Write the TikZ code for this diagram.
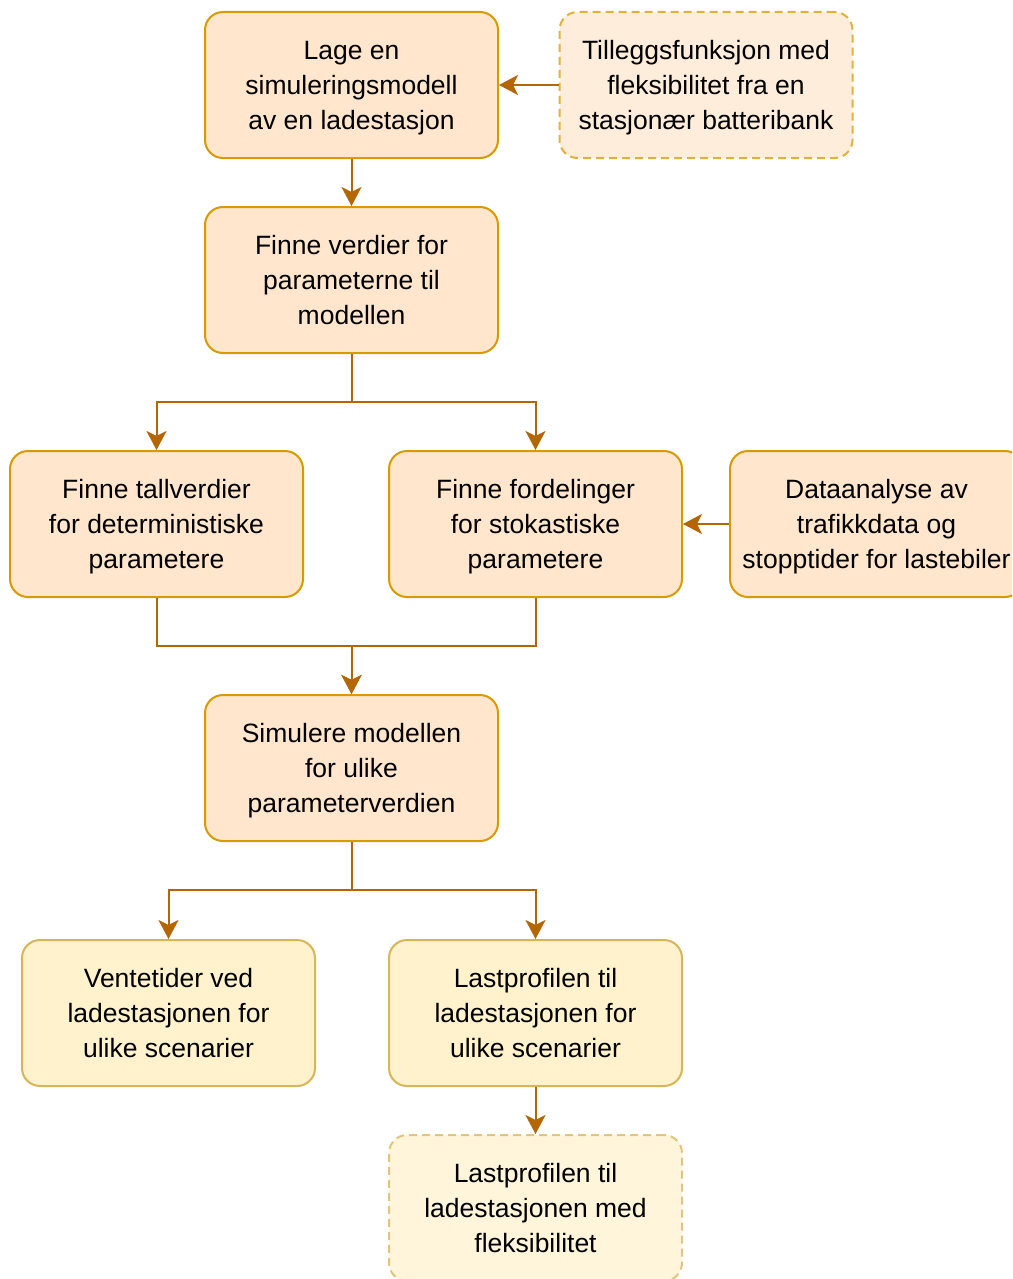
\documentclass[tikz,border=0pt]{standalone}
\usepackage{fontspec}
\setmainfont{Liberation Sans}
\usetikzlibrary{arrows.meta}
\definecolor{ofill}{HTML}{FFE6CC}
\definecolor{ostroke}{HTML}{D79B00}
\definecolor{yfill}{HTML}{FFF2CC}
\definecolor{ystroke}{HTML}{D6B656}
\definecolor{edgec}{HTML}{B46504}
% strut for the first line of each label
\newcommand{\firstln}{\rule{0pt}{26pt}}
\tikzset{
  box/.style={rectangle, rounded corners=18pt, minimum width=293pt, minimum height=146pt,
    inner sep=0pt, line width=2pt, align=center,
    font=\fontsize{26.5}{35}\selectfont,
    execute at end node={\rule[-7pt]{0pt}{0pt}}},
  obox/.style={box, fill=ofill, draw=ostroke},
  ybox/.style={box, fill=yfill, draw=ystroke},
  extra/.style={dash pattern=on 8pt off 5pt, fill opacity=0.7, draw opacity=0.75, text opacity=1},
  arr/.style={draw=edgec, line width=2pt,
    -{Stealth[length=19pt, width=20pt, inset=5pt]}},
}
\begin{document}
\begin{tikzpicture}[x=1pt, y=-1pt]
\useasboundingbox (0,0) rectangle (1012,1279);
\fill[white] (0,0) rectangle (1012,1279);
\clip (0,0) rectangle (1012,1279);

% process steps
\node[obox] (model) at (351.5,85) {\firstln Lage en\\simuleringsmodell\\av en ladestasjon};
\node[obox, extra] (battery) at (706,85) {\firstln Tilleggsfunksjon med\\fleksibilitet fra en\\stasjonær batteribank};
\node[obox] (params) at (351.5,280) {\firstln Finne verdier for\\parameterne til\\modellen};
\node[obox] (determ) at (156.5,524) {\firstln Finne tallverdier\\for deterministiske\\parametere};
\node[obox] (stoch) at (535.5,524) {\firstln Finne fordelinger\\for stokastiske\\parametere};
\node[obox] (data) at (876.5,524) {\firstln Dataanalyse av\\trafikkdata og\\stopptider for lastebiler};
\node[obox] (sim) at (351.5,768) {\firstln Simulere modellen\\for ulike\\parameterverdien};

% results
\node[ybox] (wait) at (168.5,1013) {\firstln Ventetider ved\\ladestasjonen for\\ulike scenarier};
\node[ybox] (load) at (535.5,1013) {\firstln Lastprofilen til\\ladestasjonen for\\ulike scenarier};
\node[ybox, extra] (flex) at (535.5,1208) {\firstln Lastprofilen til\\ladestasjonen med\\fleksibilitet};

% connectors
\draw[arr] (battery.west) -- (model.east);
\draw[arr] (model.south) -- (params.north);
\draw[arr] (params.south) -- (params.south |- 0,402) -| (determ.north);
\draw[arr] (params.south) -- (params.south |- 0,402) -| (stoch.north);
\draw[arr] (data.west) -- (stoch.east);
\draw[arr] (determ.south) -- (determ.south |- 0,646) -| (sim.north);
\draw[arr] (stoch.south) -- (stoch.south |- 0,646) -| (sim.north);
\draw[arr] (sim.south) -- (sim.south |- 0,890) -| (wait.north);
\draw[arr] (sim.south) -- (sim.south |- 0,890) -| (load.north);
\draw[arr] (load.south) -- (flex.north);
\end{tikzpicture}
\end{document}
